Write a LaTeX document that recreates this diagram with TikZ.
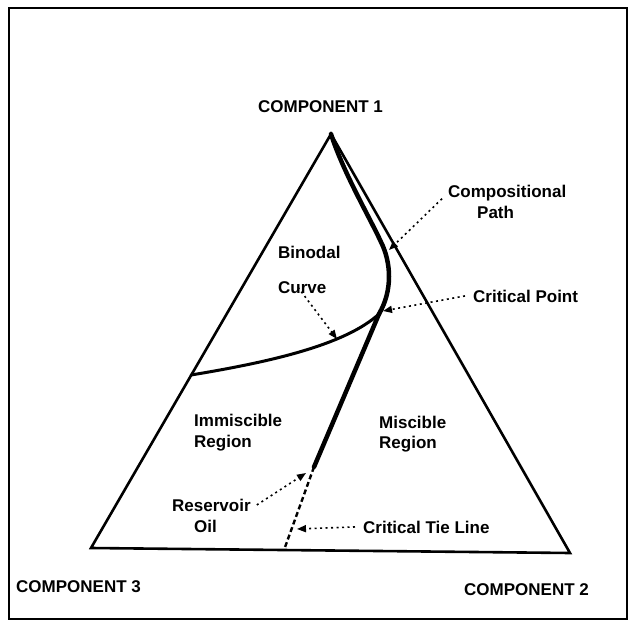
\documentclass[tikz,border=0pt]{standalone}
\usepackage{fontspec}
\setmainfont{Liberation Sans}
\usetikzlibrary{arrows.meta}
\begin{document}
\begin{tikzpicture}[x=1pt,y=-1pt,
  lbl/.style={font=\fontsize{17}{19}\selectfont\bfseries, inner sep=0pt, anchor=base west},
  pointer/.style={line width=1.6pt, dash pattern=on 2pt off 3.5pt, -{Triangle[length=9pt,width=7pt]}},
  frame/.style={line width=2pt},
  tri/.style={line width=2.6pt, line join=miter},
  binodal/.style={line width=3pt, line cap=round},
  pathline/.style={line width=4.5pt, line cap=round},
  tieline/.style={line width=2.4pt, dash pattern=on 5pt off 3pt}]
\useasboundingbox (0,0) rectangle (633,624);
\draw[frame] (9,8) rectangle (627,619);
% triangle
\coordinate (A) at (331,134);
\coordinate (B) at (91,548);
\coordinate (C) at (570,553);
\draw[tri] (A) -- (C) -- (B) -- cycle;
% binodal and path points
\coordinate (L) at (191,375);
\coordinate (CP) at (379,314);
\coordinate (U) at (381,242);
\coordinate (RO) at (314,467);
\coordinate (TB) at (284,550);
% binodal lower branch
\draw[binodal] (L) .. controls (270,362) and (345,345) .. (CP);
% compositional path along upper branch
\draw[pathline] (CP) .. controls (393,290) and (391,262) .. (U) .. controls (370,218) and (343,172) .. (A);
\draw[pathline] (CP) -- (RO);
\draw[tieline] (RO) -- (TB);
% labels
\node[lbl] (c1) at (258,112) {COMPONENT 1};
\node[lbl] (c3) at (16,592) {COMPONENT 3};
\node[lbl] (c2) at (464,595) {COMPONENT 2};
\node[lbl] (comp) at (448,197) {Compositional};
\node[lbl] (path) at (477,218) {Path};
\node[lbl] (crit) at (473,302) {Critical Point};
\node[lbl] (bin) at (278,258) {Binodal};
\node[lbl] (curve) at (278,293) {Curve};
\node[lbl] (imm) at (194,426) {Immiscible};
\node[lbl] (reg1) at (194,447) {Region};
\node[lbl] (mis) at (379,428) {Miscible};
\node[lbl] (reg2) at (379,448) {Region};
\node[lbl] (res) at (172,511) {Reservoir};
\node[lbl] (oil) at (194,532) {Oil};
\node[lbl] (tie) at (363,533) {Critical Tie Line};
% pointer targets
\coordinate (tPath) at (389,250);
\coordinate (tCrit) at (383,311);
\coordinate (tCurve) at (337,339);
\coordinate (tRes) at (306,473);
\coordinate (tTie) at (297,529);
% pointers
\draw[pointer] ([xshift=-6pt,yshift=2pt]comp.south west) -- (tPath);
\draw[pointer] ([xshift=-8pt]crit.west) -- (tCrit);
\draw[pointer] ([xshift=20pt,yshift=6pt]curve.south west) -- (tCurve);
\draw[pointer] ([xshift=6pt]res.east) -- (tRes);
\draw[pointer] ([xshift=-8pt]tie.west) -- (tTie);
\end{tikzpicture}
\end{document}
